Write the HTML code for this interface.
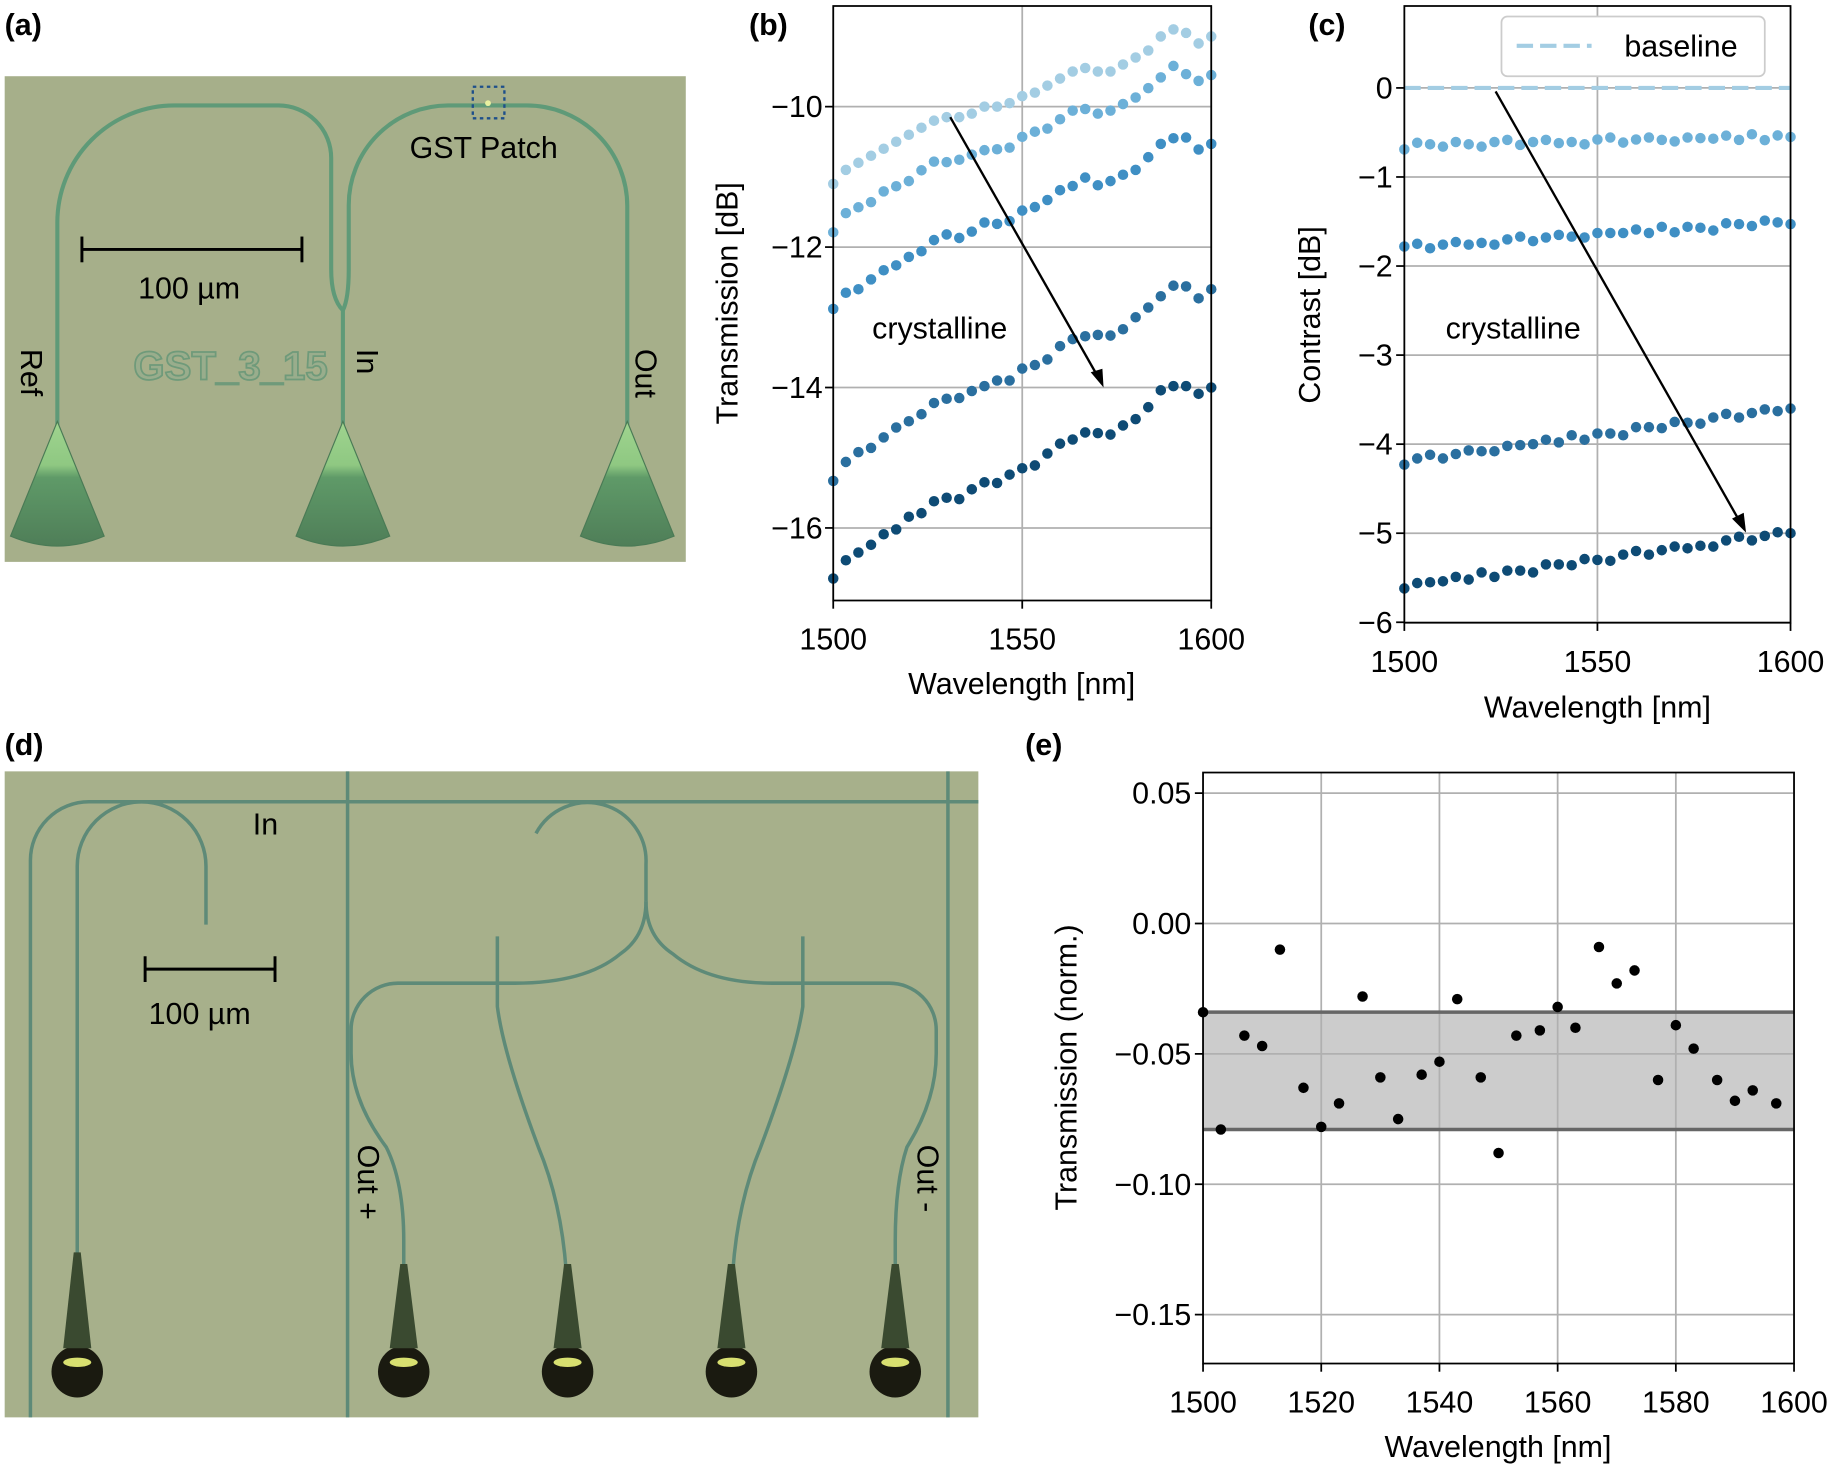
<!DOCTYPE html>
<html><head><meta charset="utf-8"><style>
html,body{margin:0;padding:0;background:#fff;}
svg{display:block;font-family:"Liberation Sans",sans-serif;}
</style></head><body>
<svg id="s" width="1835" height="1469" viewBox="0 0 1568 1255" xmlns="http://www.w3.org/2000/svg">
<defs>
<linearGradient id="tp" x1="0" y1="0" x2="0" y2="1">
<stop offset="0" stop-color="#9fd48f"/><stop offset="0.35" stop-color="#8fc882"/><stop offset="0.45" stop-color="#5f9a68"/><stop offset="1" stop-color="#4f7e58"/>
</linearGradient>
</defs>
<g font-size="26" font-weight="bold" fill="#000">
<text x="4" y="30">(a)</text><text x="640" y="30">(b)</text><text x="1118" y="30">(c)</text>
<text x="4" y="645">(d)</text><text x="876" y="645">(e)</text>
</g>
<!-- (a) photo -->
<rect x="4" y="65" width="582" height="415" fill="#a6af8a"/>
<g fill="none" stroke="#5f9a78" stroke-width="3.5">
<path d="M49,370 V190 A100,100 0 0 1 149,90 H238 A45,45 0 0 1 283,135 V230 Q283,255 293,265 V370"/>
<path d="M293,265 Q298,255 298,230 V175 A85,85 0 0 1 383,90 H450 A86,86 0 0 1 536,176 V370"/>
</g>
<g fill="url(#tp)" stroke="#4a7a55" stroke-width="1">
<path d="M49,360 L9,458 Q49,475 89,458 Z"/>
<path d="M293,360 L253,458 Q293,475 333,458 Z"/>
<path d="M536,360 L496,458 Q536,475 576,458 Z"/>
</g>
<rect x="404" y="74" width="27" height="27" fill="none" stroke="#1d4f8a" stroke-width="2" stroke-dasharray="3,3"/>
<circle cx="417" cy="88" r="2.5" fill="#e8f0a0"/>
<g stroke="#000" stroke-width="2.5"><line x1="70" y1="213" x2="258" y2="213"/><line x1="70" y1="202" x2="70" y2="224"/><line x1="258" y1="202" x2="258" y2="224"/></g>
<g font-size="26" fill="#000">
<text x="118" y="255">100 µm</text>
<text x="350" y="135">GST Patch</text>
<text transform="translate(18,298) rotate(90)">Ref</text>
<text transform="translate(305,298) rotate(90)">In</text>
<text transform="translate(543,298) rotate(90)">Out</text>
</g>
<text x="114" y="324" font-size="34" font-weight="bold" fill="#99ad8c" stroke="#6f9a7a" stroke-width="1.5" textLength="166" lengthAdjust="spacingAndGlyphs">GST_3_15</text>
<!-- (d) photo -->
<rect x="4" y="659" width="832" height="552" fill="#a7b08b"/>
<g fill="none" stroke="#5e8a78" stroke-width="3">
<path d="M26,1211 V735 A50,50 0 0 1 76,685 H836"/>
<line x1="297" y1="659" x2="297" y2="1211"/>
<line x1="810" y1="659" x2="810" y2="1211"/>
<path d="M66,1100 V740 A55,55 0 0 1 176,740 V790"/>
<path d="M458,712 A50,50 0 0 1 552,738 V770"/>
<path d="M552,770 Q552,800 530,815 Q500,840 440,840 H340 A40,40 0 0 0 300,880 V900 Q300,940 330,980 Q345,1010 345,1060 V1120"/>
<path d="M552,770 Q552,800 575,815 Q605,840 660,840 H760 A40,40 0 0 1 800,880 V900 Q800,940 775,980 Q765,1010 765,1060 V1120"/>
<path d="M425,800 V860 Q430,900 460,980 Q485,1040 485,1120"/>
<path d="M686,800 V860 Q680,900 650,980 Q625,1040 625,1120"/>
</g>
<g fill="#1a1a10">
<ellipse cx="66" cy="1172" rx="22" ry="22"/><ellipse cx="345" cy="1172" rx="22" ry="22"/><ellipse cx="485" cy="1172" rx="22" ry="22"/><ellipse cx="625" cy="1172" rx="22" ry="22"/><ellipse cx="765" cy="1172" rx="22" ry="22"/>
</g>
<g fill="#3a4a30"><path d="M63,1070 L69,1070 L78,1152 L54,1152Z"/><path d="M342,1080 L348,1080 L357,1152 L333,1152Z"/><path d="M482,1080 L488,1080 L497,1152 L473,1152Z"/><path d="M622,1080 L628,1080 L637,1152 L613,1152Z"/><path d="M762,1080 L768,1080 L777,1152 L753,1152Z"/></g>
<g fill="#d8e070"><ellipse cx="66" cy="1164" rx="12" ry="4"/><ellipse cx="345" cy="1164" rx="12" ry="4"/><ellipse cx="485" cy="1164" rx="12" ry="4"/><ellipse cx="625" cy="1164" rx="12" ry="4"/><ellipse cx="765" cy="1164" rx="12" ry="4"/></g>
<g stroke="#000" stroke-width="2.5"><line x1="124" y1="828" x2="235" y2="828"/><line x1="124" y1="817" x2="124" y2="839"/><line x1="235" y1="817" x2="235" y2="839"/></g>
<g font-size="26" fill="#000">
<text x="127" y="875">100 µm</text><text x="216" y="713">In</text>
<text transform="translate(306,978) rotate(90)">Out +</text>
<text transform="translate(784,978) rotate(90)">Out -</text>
</g>
<g id="plots"></g>
</svg>
<script>
var g=document.getElementById('plots'),h='';
function T(x,y,t,a,extra){h+='<text x="'+x+'" y="'+y+'" text-anchor="'+(a||'middle')+'" font-size="26" '+(extra||'')+'>'+t+'</text>';}
function L(x1,y1,x2,y2,c,w,ex){h+='<line x1="'+x1+'" y1="'+y1+'" x2="'+x2+'" y2="'+y2+'" stroke="'+c+'" stroke-width="'+w+'" '+(ex||'')+'/>';}
function C(x,y,r,c){h+='<circle cx="'+x.toFixed(1)+'" cy="'+y.toFixed(1)+'" r="'+r+'" fill="'+c+'"/>';}
var base=[-11.1,-10.9,-10.8,-10.7,-10.6,-10.5,-10.4,-10.3,-10.2,-10.15,-10.15,-10.1,-10.0,-10.0,-9.95,-9.85,-9.8,-9.7,-9.6,-9.5,-9.45,-9.5,-9.5,-9.4,-9.3,-9.2,-9.0,-8.9,-8.95,-9.1,-9.0];
var cols=['#a3cde3','#6cb0d8','#3f8fc4','#2a6f9f','#0e4b75'];
var con=[[0,0],[-0.65,-0.55],[-1.8,-1.5],[-4.2,-3.6],[-5.6,-5.0]];
var nz=[0,0.03,-0.02,0.04,-0.03,0.02,0.0,-0.04,0.03,0.01,-0.02,0.03,0.0,-0.03,0.02,0.04,-0.02,0.01,0.03,-0.01,0.0,-0.03,0.02,0.04,-0.02,0.01,0.03,0.0,-0.02,0.02,0.01];
var bx=function(l){return 712+(l-1500)*3.23},by=function(v){return 91-(v+10)*60};
[1500,1550,1600].forEach(function(l){L(bx(l),5,bx(l),513,'#b0b0b0',1.5);T(bx(l),555,l);});
[-10,-12,-14,-16].forEach(function(v){L(712,by(v),1035,by(v),'#b0b0b0',1.5);T(703,by(v)+9,'−'+(-v),'end');});
for(var s=0;s<5;s++)for(var i=0;i<31;i++){var l=1500+i*100/30;var c=con[s][0]+(con[s][1]-con[s][0])*i/30+(s?nz[(i+s*7)%31]:0);C(bx(l),by(base[i]+c),4.5,cols[s]);}
h+='<rect x="712" y="5" width="323" height="508" fill="none" stroke="#000" stroke-width="1.5"/>';
[1500,1550,1600].forEach(function(l){L(bx(l),513,bx(l),520,'#000',1.5)});
[-10,-12,-14,-16].forEach(function(v){L(705,by(v),712,by(v),'#000',1.5)});
L(812,100,940,325,'#000',2);h+='<path d="M943,331 L932,318 L942,315Z" fill="#000"/>';
h+='<rect x="730" y="260" width="140" height="34" fill="#fff"/>';T(803,289,'crystalline');
T(873,593,'Wavelength [nm]');T(0,0,'Transmission [dB]','middle','transform="translate(630,259) rotate(-90)"');
var cx=function(l){return 1200+(l-1500)*3.3},cy=function(v){return 75-v*76.1};
[1500,1550,1600].forEach(function(l){L(cx(l),5,cx(l),532,'#b0b0b0',1.5);T(cx(l),574,l);});
[0,-1,-2,-3,-4,-5,-6].forEach(function(v){L(1200,cy(v),1530,cy(v),'#b0b0b0',1.5);T(1190,cy(v)+9,v==0?'0':'−'+(-v),'end');});
L(1200,cy(0),1530,cy(0),'#a3cde3',3.5,'stroke-dasharray="14,6"');
for(var s=1;s<5;s++)for(var i=0;i<31;i++){var l=1500+i*100/30;var c=con[s][0]+(con[s][1]-con[s][0])*i/30+nz[(i+s*7)%31];C(cx(l),cy(c),4.5,cols[s]);}
h+='<rect x="1200" y="5" width="330" height="527" fill="none" stroke="#000" stroke-width="1.5"/>';
[1500,1550,1600].forEach(function(l){L(cx(l),532,cx(l),539,'#000',1.5)});
[0,-1,-2,-3,-4,-5,-6].forEach(function(v){L(1193,cy(v),1200,cy(v),'#000',1.5)});
L(1278,78,1488,448,'#000',2);h+='<path d="M1492,455 L1480,443 L1490,438Z" fill="#000"/>';
h+='<rect x="1222" y="260" width="140" height="34" fill="#fff"/>';T(1293,289,'crystalline');
h+='<rect x="1283" y="14" width="225" height="51" rx="5" fill="#fff" stroke="#ccc" stroke-width="1.5"/>';
L(1296,39,1360,39,'#a3cde3',3.5,'stroke-dasharray="14,6"');T(1388,48,'baseline','start');
T(1365,613,'Wavelength [nm]');T(0,0,'Contrast [dB]','middle','transform="translate(1128,269) rotate(-90)"');
var ex=function(l){return 1028+(l-1500)*5.05},ey=function(v){return 789-v*2228};
h+='<rect x="1028" y="'+ey(-0.034)+'" width="505" height="'+(ey(-0.079)-ey(-0.034))+'" fill="#cccccc"/>';
[1500,1520,1540,1560,1580,1600].forEach(function(l){L(ex(l),660,ex(l),1165,'#b0b0b0',1.5);T(ex(l),1207,l);});
[[0.05,'0.05'],[0,'0.00'],[-0.05,'−0.05'],[-0.1,'−0.10'],[-0.15,'−0.15']].forEach(function(v){L(1028,ey(v[0]),1533,ey(v[0]),'#b0b0b0',1.5);T(1018,ey(v[0])+9,v[1],'end');L(1021,ey(v[0]),1028,ey(v[0]),'#000',1.5);});
L(1028,ey(-0.034),1533,ey(-0.034),'#666',3);L(1028,ey(-0.079),1533,ey(-0.079),'#666',3);
var pe=[[1500,-0.034],[1503,-0.079],[1507,-0.043],[1510,-0.047],[1513,-0.010],[1517,-0.063],[1520,-0.078],[1523,-0.069],[1527,-0.028],[1530,-0.059],[1533,-0.075],[1537,-0.058],[1540,-0.053],[1543,-0.029],[1547,-0.059],[1550,-0.088],[1553,-0.043],[1557,-0.041],[1560,-0.032],[1563,-0.040],[1567,-0.009],[1570,-0.023],[1573,-0.018],[1577,-0.060],[1580,-0.039],[1583,-0.048],[1587,-0.060],[1590,-0.068],[1593,-0.064],[1597,-0.069]];
pe.forEach(function(p){C(ex(p[0]),ey(p[1]),4.5,'#000')});
h+='<rect x="1028" y="660" width="505" height="505" fill="none" stroke="#000" stroke-width="1.5"/>';
[1500,1520,1540,1560,1580,1600].forEach(function(l){L(ex(l),1165,ex(l),1172,'#000',1.5)});
T(1280,1245,'Wavelength [nm]');T(0,0,'Transmission (norm.)','middle','transform="translate(920,912) rotate(-90)"');
g.innerHTML=h;
</script>
</body></html>
